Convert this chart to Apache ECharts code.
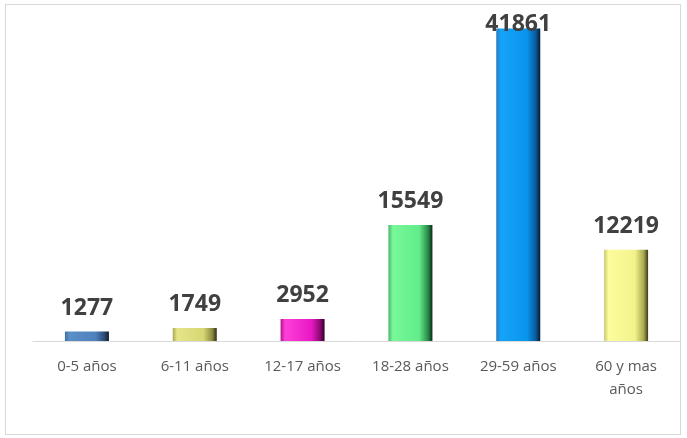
<!DOCTYPE html>
<html><head><meta charset="utf-8">
<script src="https://cdn.jsdelivr.net/npm/echarts@6/dist/echarts.min.js"></script>
<style>html,body{margin:0;padding:0;background:#fff}#c{width:687px;height:438px}
#f{position:absolute;left:5px;top:4px;width:676px;height:431px;border:1px solid #d9d9d9;box-sizing:border-box;pointer-events:none}</style>
</head><body><div id="c"></div><div id="f"></div>
<script>
var categories = ['0-5 años', '6-11 años', '12-17 años', '18-28 años', '29-59 años', '60 y mas\naños'];
var values = [1277, 1749, 2952, 15549, 41861, 12219];
var barColors = [
  ['#3f6f9f', '#5b8fc8', '#4f81bd', '#2c4a70', '#101c2c'],
  ['#a8a850', '#e6e68a', '#d6d674', '#8a8a40', '#2c2c10'],
  ['#b0108c', '#ff40d8', '#e818c4', '#8a0a70', '#30002a'],
  ['#48b868', '#78f89a', '#62ec8a', '#2a8a48', '#0c2c18'],
  ['#2a78c0', '#14a4f8', '#0a94ec', '#0a5a9a', '#041a30'],
  ['#c8c870', '#fcfc9c', '#f4f48c', '#a8a850', '#3a3a18']
];
function grad(c) {
  return new echarts.graphic.LinearGradient(0, 0, 1, 0, [
    {offset: 0, color: c[0]}, {offset: 0.1, color: c[1]},
    {offset: 0.7, color: c[2]}, {offset: 0.9, color: c[3]}, {offset: 1, color: c[4]}
  ]);
}
var maxIdx = values.indexOf(Math.max.apply(null, values));
var chart = echarts.init(document.getElementById('c'));
chart.setOption({
  animation: false,
  grid: {left: 33, right: 7, top: 5, bottom: 97},
  xAxis: {
    type: 'category', data: categories,
    axisLine: {lineStyle: {color: '#d9d9d9', width: 1}},
    axisTick: {show: false},
    axisLabel: {color: '#595959', fontFamily: 'Open Sans', fontSize: 15, lineHeight: 23, margin: 14, interval: 0}
  },
  yAxis: {type: 'value', min: 0, max: 45000, show: false, splitLine: {show: false}},
  series: [{
    type: 'bar', barWidth: 44,
    data: values.map(function (v, i) {
      var d = {value: v, itemStyle: {color: grad(barColors[i])}};
      if (i === maxIdx) d.label = {distance: -8};
      return d;
    }),
    label: {show: true, position: 'top', distance: 12, color: '#404040', fontFamily: 'Open Sans', fontWeight: 'bold', fontSize: 23}
  }]
});
</script></body></html>
